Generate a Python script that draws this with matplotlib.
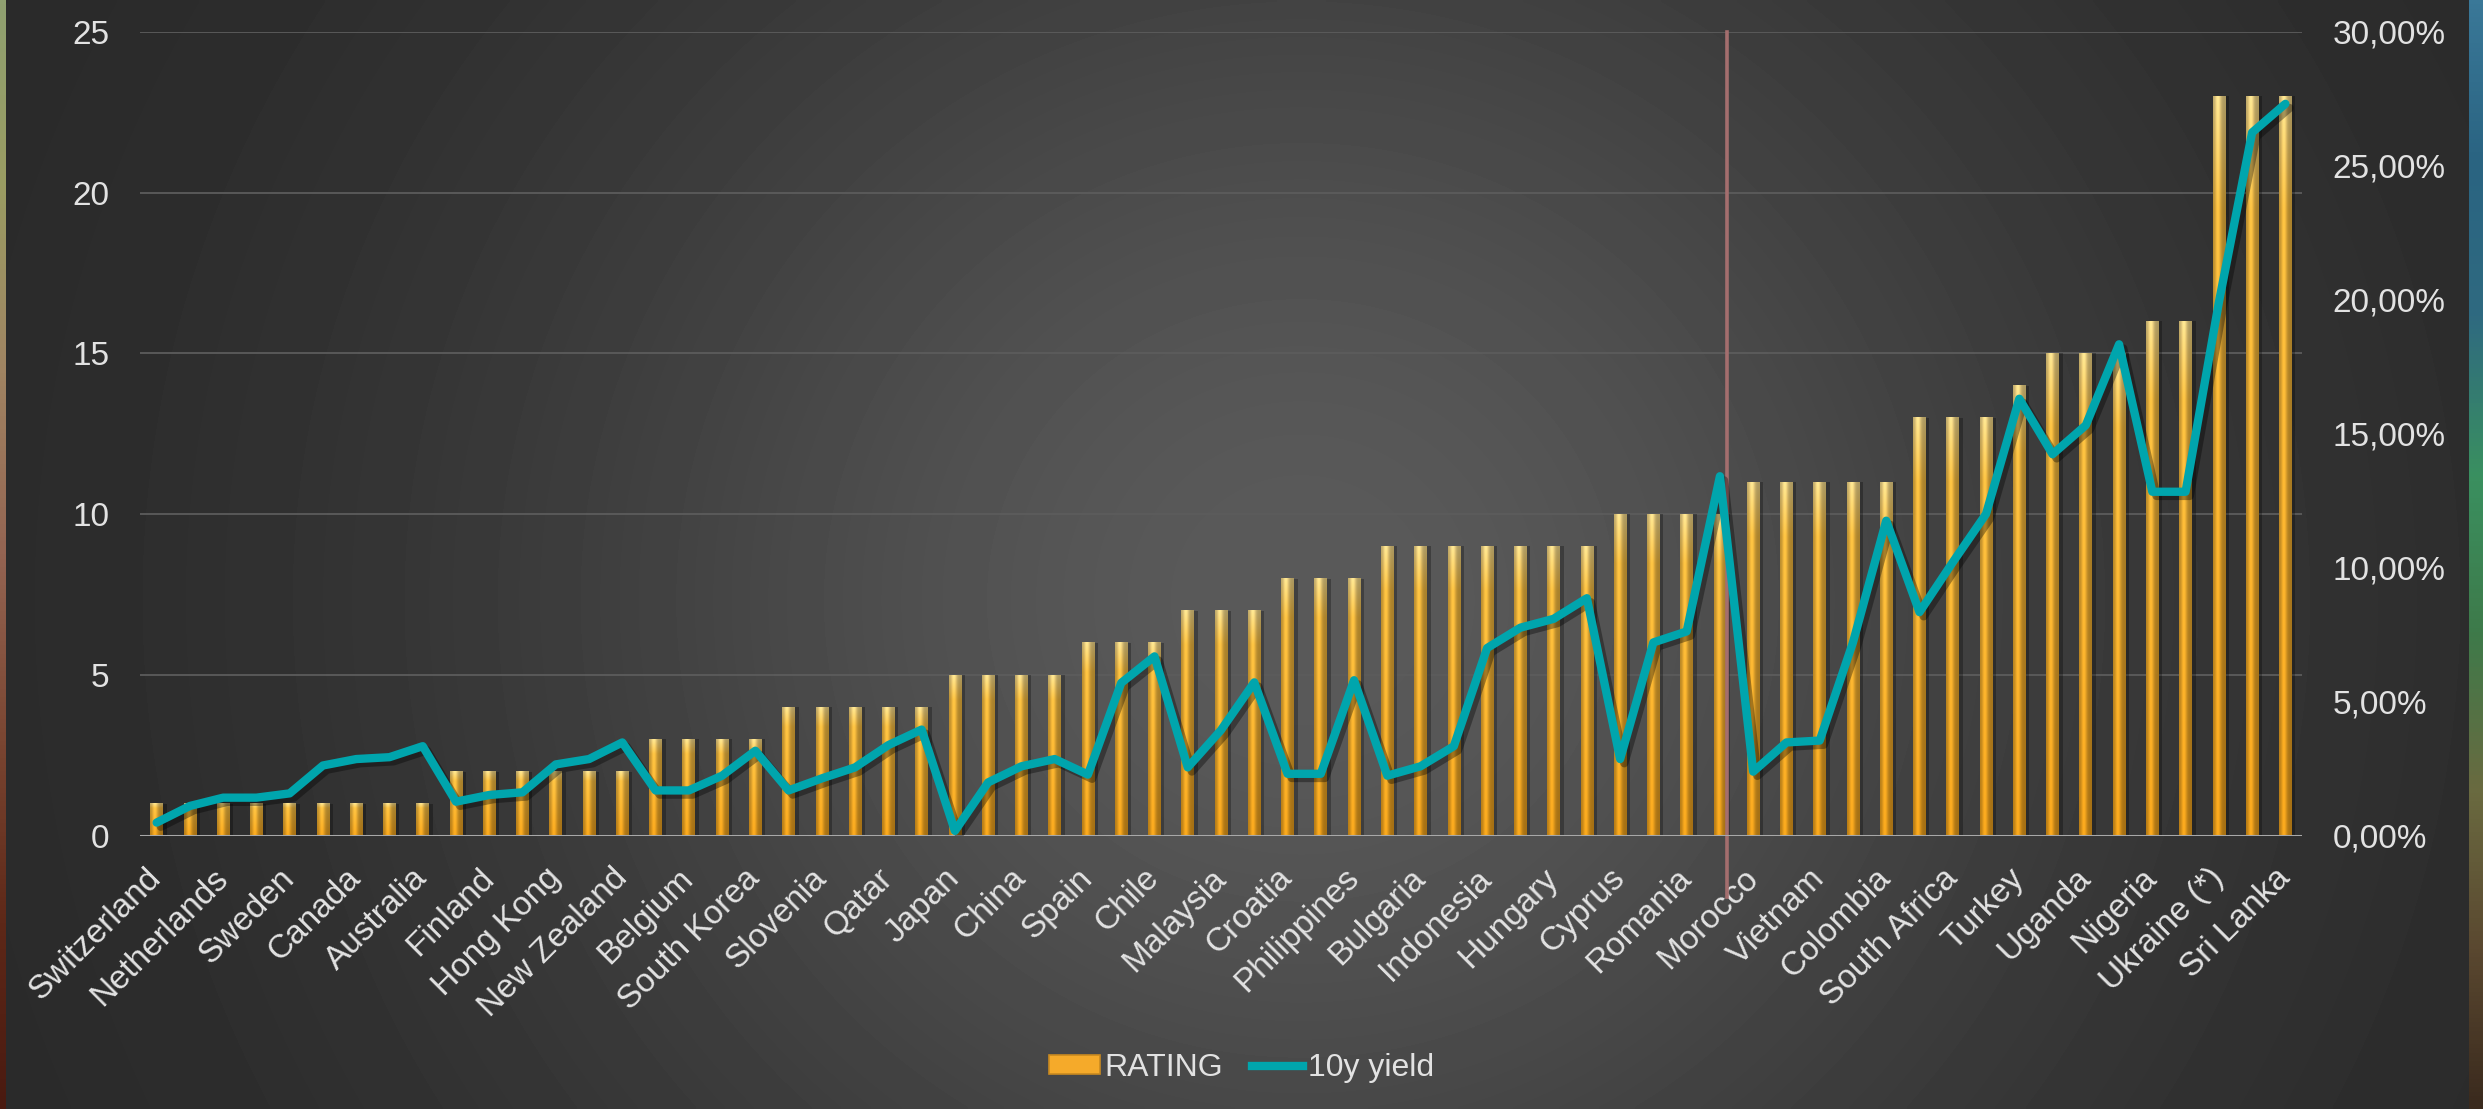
import numpy as np
import matplotlib
matplotlib.use('Agg')
import matplotlib.pyplot as plt
import matplotlib.patheffects as pe
import matplotlib.transforms as mtransforms
from matplotlib.colors import LinearSegmentedColormap
from matplotlib.patches import Patch
from matplotlib.lines import Line2D
from matplotlib.ticker import FuncFormatter, MultipleLocator

plt.rcParams['font.family'] = ['Liberation Sans', 'DejaVu Sans']

# every second country gets a label on the axis
countries = ['Switzerland', 'Netherlands', 'Sweden', 'Canada', 'Australia', 'Finland',
             'Hong Kong', 'New Zealand', 'Belgium', 'South Korea', 'Slovenia', 'Qatar',
             'Japan', 'China', 'Spain', 'Chile', 'Malaysia', 'Croatia', 'Philippines',
             'Bulgaria', 'Indonesia', 'Hungary', 'Cyprus', 'Romania', 'Morocco', 'Vietnam',
             'Colombia', 'South Africa', 'Turkey', 'Uganda', 'Nigeria', 'Ukraine (*)',
             'Sri Lanka']

rating = [1, 1, 1, 1, 1, 1, 1, 1, 1, 2,
          2, 2, 2, 2, 2, 3, 3, 3, 3, 4,
          4, 4, 4, 4, 5, 5, 5, 5, 6, 6,
          6, 7, 7, 7, 8, 8, 8, 9, 9, 9,
          9, 9, 9, 9, 10, 10, 10, 10, 11, 11,
          11, 11, 11, 13, 13, 13, 14, 15, 15, 15,
          16, 16, 23, 23, 23]

# 10 year government bond yield, in percent
yield_10y = [0.50, 1.12, 1.43, 1.43, 1.59, 2.63, 2.87, 2.94, 3.35, 1.28,
             1.53, 1.63, 2.67, 2.87, 3.49, 1.70, 1.70, 2.25, 3.18, 1.70,
             2.15, 2.56, 3.39, 3.97, 0.19, 2.00, 2.60, 2.87, 2.29, 5.71,
             6.70, 2.56, 3.95, 5.73, 2.32, 2.32, 5.81, 2.25, 2.60, 3.35,
             7.01, 7.77, 8.10, 8.87, 2.87, 7.22, 7.63, 13.42, 2.40, 3.49,
             3.56, 7.22, 11.76, 8.35, 10.21, 12.01, 16.31, 14.24, 15.32, 18.34,
             12.84, 12.84, 19.90, 26.24, 27.31]

marker_x = 47.2

W, H = 2483, 1109
fig = plt.figure(figsize=(W / 100, H / 100), dpi=100)

# dark backdrop, lighter towards the middle
bg = fig.add_axes([0, 0, 1, 1], zorder=-10)
bg.axis('off')
yy, xx = np.mgrid[0:H:4, 0:W:4]
r2 = ((xx - 1300) / 1250) ** 2 + ((yy - 600) / 1200) ** 2
shade = (40 + 50 * np.exp(-r2 / 0.4)) / 255
bg.imshow(shade, cmap='gray', vmin=0, vmax=1, extent=[0, 1, 0, 1],
          aspect='auto', interpolation='bilinear')

# thin strips of the slide picture at both edges
def edge_strip(rect, colors):
    sa = fig.add_axes(rect, zorder=-5)
    sa.axis('off')
    cmap = LinearSegmentedColormap.from_list('strip', colors)
    sa.imshow(np.linspace(0, 1, 256)[:, None], cmap=cmap, extent=[0, 1, 0, 1],
              aspect='auto')

edge_strip([0, 0, 6 / W, 1], ['#8fa070', '#9a9c62', '#a08462', '#946452',
                              '#7a4632', '#5e2818', '#4a1a10'])
edge_strip([2469 / W, 0, 14 / W, 1], ['#3a7898', '#2a6482', '#2f6a80', '#3a9060',
                                      '#3e7a4a', '#6a6a40', '#5a4830', '#3a2a1e'])

ax = fig.add_axes([140 / W, 1 - 836 / H, (2302 - 140) / W, (836 - 31.7) / H])
ax.set_facecolor('none')

# golden cylinder look for each bar
u = np.linspace(0, 1, 24)
across = 0.74 + 0.34 * np.exp(-((u - 0.38) / 0.24) ** 2) - 0.05 * u
v = np.linspace(0, 1, 120)[:, None]
top_c = np.array([250, 222, 140]) / 255
mid_c = np.array([246, 188, 64]) / 255
bot_c = np.array([240, 162, 28]) / 255
t1 = np.clip(v / 0.15, 0, 1)
t2 = np.clip((v - 0.15) / 0.85, 0, 1)
base = np.where(v[..., None] < 0.15,
                top_c + (mid_c - top_c) * t1[..., None],
                mid_c + (bot_c - mid_c) * t2[..., None])
bar_img = np.clip(base * across[None, :, None], 0, 1)

bar_w = 0.38
x = np.arange(len(rating))
for xi, h in zip(x, rating):
    ax.bar(xi + 0.07, h, width=bar_w + 0.08, color='black', alpha=0.28,
           zorder=1.5, linewidth=0)
    ax.imshow(bar_img, extent=[xi - bar_w / 2, xi + bar_w / 2, 0, h],
              aspect='auto', zorder=2, interpolation='bilinear')

ax.axhline(0, color='#a8a8a8', lw=2.2, zorder=3)
ax.plot([marker_x, marker_x], [-1.9, 25], color='#a46e6e', lw=2.6,
        clip_on=False, zorder=2.5)

ax.set_xlim(-0.5, len(rating) - 0.5)
ax.set_ylim(0, 25)
ax.yaxis.set_major_locator(MultipleLocator(5))
ax.grid(axis='y', color='#5c5c5c', lw=1.3)
ax.set_axisbelow(True)
for s in ax.spines.values():
    s.set_visible(False)

ax.set_xticks(x[::2])
ax.set_xticklabels(countries, rotation=45, ha='right', va='center',
                   rotation_mode='anchor', fontsize=24, color='#e2e2e2')
shift = mtransforms.ScaledTranslation(0.12, 0, fig.dpi_scale_trans)
for lab in ax.get_xticklabels():
    lab.set_transform(lab.get_transform() + shift)
ax.tick_params(axis='x', length=0, pad=27)
ax.tick_params(axis='y', length=0, pad=22, labelsize=24, labelcolor='#e2e2e2')

ax2 = ax.twinx()
ax2.set_ylim(0, 30)
ax2.yaxis.set_major_locator(MultipleLocator(5))
ax2.yaxis.set_major_formatter(FuncFormatter(lambda val, p: f'{val:.2f}%'.replace('.', ',')))
ax2.tick_params(axis='y', length=0, pad=22, labelsize=24, labelcolor='#e2e2e2')
for s in ax2.spines.values():
    s.set_visible(False)
ax2.plot(x, yield_10y, color='#00a5ad', lw=6, solid_joinstyle='round',
         solid_capstyle='round', zorder=4,
         path_effects=[pe.SimpleLineShadow(offset=(3, -3), shadow_color='black', alpha=0.35),
                       pe.Normal()])

handles = [Patch(facecolor='#f5aa2a', edgecolor='#c98a20', lw=1.2, label='RATING'),
           Line2D([0], [0], color='#00a5ad', lw=6, label='10y yield')]
leg = fig.legend(handles=handles, loc='center', bbox_to_anchor=(0.5, 0.037), ncol=2,
                 frameon=False, fontsize=23, handlelength=1.6, handleheight=0.55,
                 handletextpad=0.15, columnspacing=0.9)
for t in leg.get_texts():
    t.set_color('#e2e2e2')

fig.savefig('out.png', dpi=100)
